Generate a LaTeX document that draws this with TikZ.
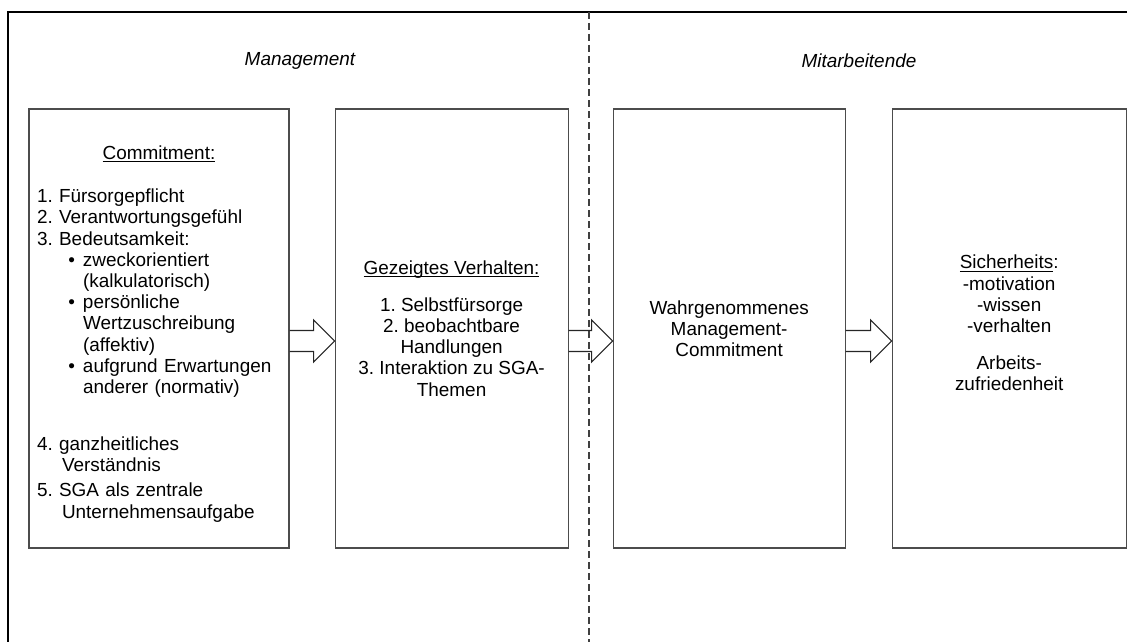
\documentclass[tikz,border=0pt]{standalone}
\usepackage{fontspec}
\setmainfont{Liberation Sans}
\usepackage{tikz}
\usetikzlibrary{positioning,calc}
\frenchspacing

\newcommand{\bodyfont}{\fontsize{14.2}{15.9}\selectfont}
\newcommand{\ulsmash}[1]{\underline{\smash{#1}}\vphantom{#1}}
\newcommand{\bulletitem}{\hspace*{23.5pt}\makebox[11pt][l]{\textbullet}}
\newcommand{\bulletcont}{\hspace*{34.5pt}}
\newcommand{\hangcont}{\hspace*{18.75pt}}
% hollow block arrow from the east side of #1 to the west side of #2
\newcommand{\blockarrow}[2]{%
  \draw[blockline] ($(#1.east)+(0,2)$) -- ($(#2.west)+(-21,2)$) -- ($(#2.west)+(-21,-8.5)$)
    -- ($(#2.west)+(0,12.5)$) -- ($(#2.west)+(-21,33.5)$) -- ($(#2.west)+(-21,23)$)
    -- ($(#1.east)+(0,23)$);}

\begin{document}
\begin{tikzpicture}[
    x=0.75pt, y=-0.75pt,
    box/.style={draw=black!70, line width=0.8pt, minimum height=329.25pt, inner sep=0pt, font=\bodyfont},
    title/.style={font=\bodyfont\itshape},
    blockline/.style={draw=black!85, line width=0.8pt, line join=miter},
    frame/.style={line width=1.6pt},
    divider/.style={draw=black!75, line width=0.8pt, dash pattern=on 5.25pt off 3pt}
  ]
    \useasboundingbox (0,0) rectangle (1130,642);

    % frame and divider
    \draw[frame] (1127,12) -- (8,12) -- (8,642);
    \draw[divider] (589,12) -- (589,642);

    \node[title] (mgmt) at (300,60.5) {Management};
    \node[title] (mitarb) at (859,60.5) {Mitarbeitende};

    \node[box, minimum width=195pt, text width=183pt, align=left] (commit) at (159,328.5) {%
      \rule{0pt}{18.5pt}\hfill\ulsmash{Commitment:}\hfill\null\\[16.35pt]
      1. Fürsorgepflicht\\
      2. Verantwortungsgefühl\\
      3. Bedeutsamkeit:\\
      \bulletitem zweckorientiert\\
      \bulletcont (kalkulatorisch)\\
      \bulletitem persönliche\\
      \bulletcont Wertzuschreibung\\
      \bulletcont (affektiv)\\
      \bulletitem aufgrund Erwartungen\\
      \bulletcont anderer (normativ)\\[26.85pt]
      4. ganzheitliches\\
      \hangcont Verständnis\\[3pt]
      5. SGA als zentrale\\
      \hangcont Unternehmensaufgabe};
    \node[box, minimum width=174.75pt, align=center, right=33.75pt of commit] (verhalten) {%
      \ulsmash{Gezeigtes Verhalten:}\\[11.85pt]
      1. Selbstfürsorge\\
      2. beobachtbare\\
      Handlungen\\
      3. Interaktion zu SGA-\\
      Themen};
    \node[box, minimum width=174pt, align=center, right=33pt of verhalten] (wahrg) {%
      Wahrgenommenes\\
      Management-\\
      Commitment};
    \node[box, minimum width=175.5pt, align=center, right=34.5pt of wahrg] (sicher) {%
      \ulsmash{Sicherheits}:\\
      -motivation\\
      -wissen\\
      -verhalten\\[11.85pt]
      Arbeits-\\
      zufriedenheit\rule[-8.25pt]{0pt}{0pt}};

    \blockarrow{commit}{verhalten}
    \blockarrow{verhalten}{wahrg}
    \blockarrow{wahrg}{sicher}
  \end{tikzpicture}
\end{document}
